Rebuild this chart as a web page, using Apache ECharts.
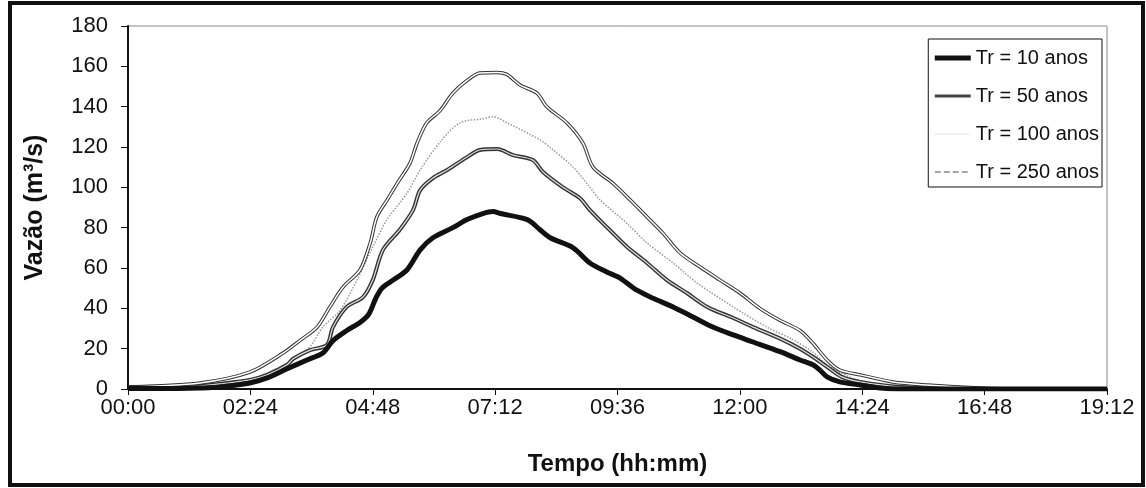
<!DOCTYPE html>
<html>
<head>
<meta charset="utf-8">
<script src="https://cdn.jsdelivr.net/npm/echarts@6/dist/echarts.min.js"></script>
<style>
html,body{margin:0;padding:0;background:#fff;}
#chart{width:1146px;height:488px;}
</style>
</head>
<body>
<div id="chart"></div>
<script>
// time in hours, flow in m3/s
const seriesNames = ['Tr = 10 anos', 'Tr = 50 anos', 'Tr = 100 anos', 'Tr = 250 anos'];
const xTickLabels = ['00:00','02:24','04:48','07:12','09:36','12:00','14:24','16:48','19:12'];
const yTicks = [0,20,40,60,80,100,120,140,160,180];

const tr10 = [[0,0.3],[1.0,0.3],[1.41,0.5],[1.8,1],[2.39,3],[2.73,5.5],[3.12,10],[3.51,14.4],[3.82,17.8],[4.02,24],[4.29,29],[4.55,33],[4.72,37],[4.86,45],[4.98,50],[5.2,54],[5.47,59],[5.73,69],[5.98,75],[6.37,80],[6.65,84],[6.96,87],[7.16,88],[7.3,87],[7.83,84],[8.08,79],[8.28,75],[8.73,70],[9.06,62.5],[9.39,58],[9.65,55],[9.98,49],[10.3,45],[10.69,40.7],[11.08,35.7],[11.47,30.7],[11.87,26.8],[12.26,23.3],[12.79,18.5],[13.18,14.4],[13.43,12],[13.57,9.4],[13.71,6],[13.96,3.5],[14.36,2],[14.75,0.5],[15.14,0],[19.2,0]];

const tr50 = [[0,1],[1.0,1.2],[1.41,1.5],[1.8,2.5],[2.39,4.5],[2.73,7],[3.12,12],[3.24,15],[3.57,19.3],[3.9,21.8],[4.02,30.7],[4.29,40.7],[4.61,45.6],[4.8,54],[5.0,69],[5.33,79],[5.59,88.7],[5.73,98.6],[5.98,104.6],[6.26,108.6],[6.65,115],[6.9,118.5],[7.24,119],[7.55,116],[7.94,113.5],[8.14,107.6],[8.53,100],[8.86,94.7],[9.06,88.7],[9.39,80.3],[9.79,70.4],[10.18,62.5],[10.57,54],[10.96,47.6],[11.36,40.7],[11.87,35.2],[12.26,30.7],[12.79,25],[13.18,20],[13.43,16],[13.71,11],[14.0,6],[14.36,3.5],[15.14,1],[16.1,0.3],[16.8,0],[19.2,0]];

const tr100 = [[0,1],[1.41,2],[2.39,5],[2.73,8],[3.24,14.4],[3.57,21],[3.82,30.7],[4.16,39],[4.49,54],[4.8,70.4],[5.08,84],[5.47,97],[5.73,108.6],[6.12,122.5],[6.51,132],[6.96,134],[7.16,135],[7.43,132],[8.08,123.5],[8.34,118.5],[8.73,110],[9.06,100],[9.26,93.7],[9.79,82],[10.18,72.4],[10.69,62.5],[11.16,52.6],[11.87,40.7],[12.53,30.7],[13.0,25],[13.43,18.3],[13.71,12],[14.36,4],[15.14,1.5],[16.1,0.5],[17,0],[19.2,0]];

const tr250 = [[0,1],[1.41,3],[2.39,8.4],[3.04,17.8],[3.37,24],[3.71,30.7],[3.96,40.7],[4.22,50.6],[4.55,59],[4.75,72.4],[4.88,85.3],[5.08,93.7],[5.28,102],[5.53,112],[5.67,122],[5.86,132],[6.12,138],[6.37,146.7],[6.65,153],[6.9,156.7],[7.24,157],[7.43,156],[7.69,150.7],[8.02,146.7],[8.22,139.8],[8.61,131.9],[8.92,122],[9.12,110],[9.51,102],[9.85,93.7],[10.18,85.3],[10.49,77.3],[10.83,67.4],[11.22,60.5],[11.61,54],[12.0,47.6],[12.39,40],[12.79,34],[13.18,29],[13.43,22.8],[13.71,14.4],[13.96,9.4],[14.36,7],[15.0,3.5],[15.67,2],[16.71,0.5],[17.5,0],[19.2,0]];

const FONT = 'Liberation Sans, Arial, sans-serif';
const SMOOTH = 0.3;
const chart = echarts.init(document.getElementById('chart'), null, {renderer:'canvas'});
chart.setOption({
  animation: false,
  backgroundColor: '#fff',
  graphic: [{
    type: 'rect', shape: {x: 10, y: 3, width: 1133, height: 482},
    style: {fill: 'none', stroke: '#111', lineWidth: 4}, z: 100
  }],
  grid: {left: 128, right: 39, top: 26, bottom: 99, show: true, borderColor: '#888', borderWidth: 1, backgroundColor: '#fff'},
  legend: {
    orient: 'vertical', right: 44, top: 39,
    padding: [9, 3, 5, 4],
    itemGap: 18, itemWidth: 36, itemHeight: 14,
    backgroundColor: '#fff', borderColor: '#111', borderWidth: 1,
    itemStyle: {opacity: 0},
    textStyle: {fontFamily: FONT, fontSize: 20, lineHeight: 20, color: '#111'},
    data: [
      {name: seriesNames[0], lineStyle: {color: '#111', width: 5}},
      {name: seriesNames[1], lineStyle: {color: '#444', width: 3}},
      {name: seriesNames[2], lineStyle: {color: '#ccc', width: 1, type: 'dotted'}},
      {name: seriesNames[3], lineStyle: {color: '#888', width: 1.5, type: 'dashed'}}
    ]
  },
  xAxis: {
    type: 'value', min: 0, max: 19.2, interval: 2.4,
    name: 'Tempo (hh:mm)', nameLocation: 'middle', nameGap: 63,
    nameTextStyle: {fontFamily: FONT, fontSize: 24, fontWeight: 'bold', color: '#111'},
    axisLine: {show: true, onZero: false, lineStyle: {color: '#111', width: 2}},
    axisTick: {show: true, length: 6, lineStyle: {color: '#111', width: 1}},
    axisLabel: {fontFamily: FONT, fontSize: 22, color: '#111', margin: 8,
      formatter: v => xTickLabels[Math.round(v / 2.4)]},
    splitLine: {show: false}
  },
  yAxis: {
    type: 'value', min: 0, max: 180, interval: 20,
    name: 'Vazão (m³/s)', nameLocation: 'middle', nameGap: 80,
    nameTextStyle: {fontFamily: FONT, fontSize: 25, fontWeight: 'bold', color: '#111'},
    axisLine: {show: true, lineStyle: {color: '#111', width: 2}},
    axisTick: {show: true, length: 7, lineStyle: {color: '#111', width: 1}},
    axisLabel: {fontFamily: FONT, fontSize: 22, color: '#111', margin: 20,
      formatter: v => String(yTicks[Math.round(v / 20)])},
    splitLine: {show: false}
  },
  series: [
    {name: seriesNames[0], type: 'line', data: tr10, showSymbol: false, symbol: 'none', smooth: SMOOTH, z: 6,
      lineStyle: {color: '#111', width: 5}, itemStyle: {color: '#111'}},
    {name: seriesNames[1], type: 'line', data: tr50, showSymbol: false, symbol: 'none', smooth: SMOOTH, z: 4,
      lineStyle: {color: '#333', width: 4}, itemStyle: {color: '#333'}},
    {name: seriesNames[1] + ' ', type: 'line', data: tr50, showSymbol: false, symbol: 'none', smooth: SMOOTH, z: 5, silent: true,
      lineStyle: {color: '#fff', width: 1.2, opacity: 0.85}},
    {name: seriesNames[2], type: 'line', data: tr100, showSymbol: false, symbol: 'none', smooth: SMOOTH, z: 3,
      lineStyle: {color: '#999', width: 1.5, type: 'dotted'}, itemStyle: {color: '#999'}},
    {name: seriesNames[3], type: 'line', data: tr250, showSymbol: false, symbol: 'none', smooth: SMOOTH, z: 3,
      lineStyle: {color: '#333', width: 3.5}, itemStyle: {color: '#888'}},
    {name: seriesNames[3] + ' ', type: 'line', data: tr250, showSymbol: false, symbol: 'none', smooth: SMOOTH, z: 4, silent: true,
      lineStyle: {color: '#fff', width: 1.5}}
  ]
});
</script>
</body>
</html>
